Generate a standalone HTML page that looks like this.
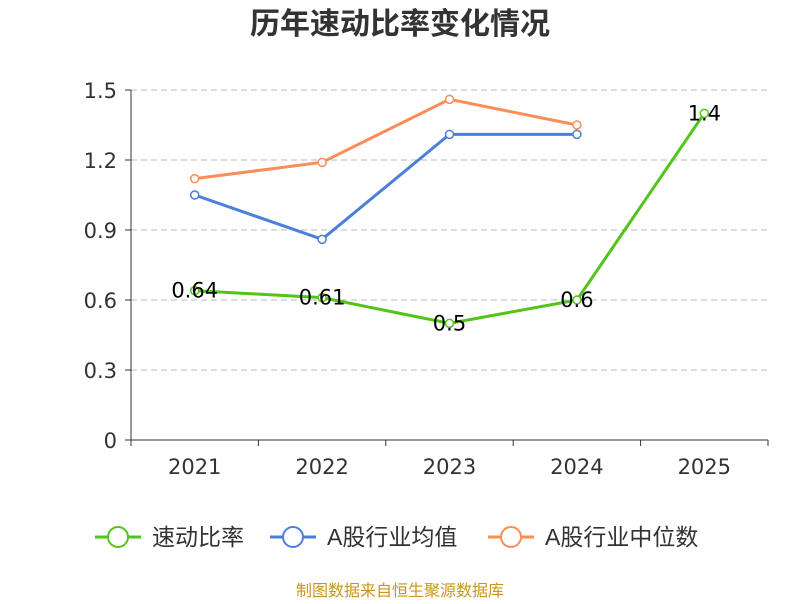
<!DOCTYPE html>
<html><head><meta charset="utf-8"><style>
body{margin:0;background:#fff;font-family:"DejaVu Sans","Noto Sans CJK SC",sans-serif;}
</style></head><body>
<svg id="c" width="800" height="600" xmlns="http://www.w3.org/2000/svg"></svg>
<script>
const categories=["2021","2022","2023","2024","2025"];
const quickRatio=[0.64,0.61,0.5,0.6,1.4];
const industryAvg=[1.05,0.86,1.31,1.31,null];
const industryMedian=[1.12,1.19,1.46,1.35,null];
const yTicks=[0,0.3,0.6,0.9,1.2,1.5];
const quickLabels=["0.64","0.61","0.5","0.6","1.4"];

const svg=document.getElementById('c');
const NS="http://www.w3.org/2000/svg";
const x0=131,x1=768,y0=440,y1=90,yMax=1.5;
const bw=(x1-x0)/categories.length;
const xs=i=>x0+bw*(i+0.5);
const ys=v=>y0-(v/yMax)*(y0-y1);
function el(t,a,p){const e=document.createElementNS(NS,t);for(const k in a)e.setAttribute(k,a[k]);(p||svg).appendChild(e);return e;}
const font='"DejaVu Sans","Noto Sans CJK SC",sans-serif';
const cjk='"Liberation Sans","Noto Sans CJK SC",sans-serif';

const title=el('text',{x:400,y:34,'text-anchor':'middle','font-size':30,'font-weight':'bold',fill:'#333','font-family':cjk});
title.textContent='历年速动比率变化情况';



yTicks.forEach(t=>{
  const y=ys(t);
  if(t>0){const g=el('line',{x1:x0,x2:x1,y1:y,y2:y,stroke:'#bbb','stroke-dasharray':'6,4'});
  
  }
  el('line',{x1:x0-6,x2:x0,y1:y,y2:y,stroke:'#333'});
  const l=el('text',{x:x0-14,y:y+8,'text-anchor':'end','font-size':21,fill:'#333','font-family':font});
  l.textContent=String(t);
  
  
});
const ya=el('line',{x1:x0,x2:x0,y1:y1,y2:y0,stroke:'#333'});


const xa=el('line',{x1:x0,x2:x1,y1:y0,y2:y0,stroke:'#333'});


for(let i=0;i<=categories.length;i++){el('line',{x1:x0+bw*i,x2:x0+bw*i,y1:y0,y2:y0+6,stroke:'#333'});}
categories.forEach((c,i)=>{
  const l=el('text',{x:xs(i),y:474,'text-anchor':'middle','font-size':21,fill:'#333','font-family':font});
  l.textContent=c;
  
  
});

function series(data,color,name){
  const pts=[];data.forEach((v,i)=>{if(v!=null)pts.push([xs(i),ys(v)]);});
  const p=el('polyline',{points:pts.map(p=>p.join(',')).join(' '),fill:'none',stroke:color,'stroke-width':3});
  
  
  pts.forEach(q=>{const c=el('circle',{cx:q[0],cy:q[1],r:4,fill:'#fff',stroke:color,'stroke-width':1.5});
  
  });
}
series(industryMedian,'#fc8d59','industry-median');
series(industryAvg,'#4a7fdc','industry-average');
series(quickRatio,'#52c41a','quick-ratio');
quickRatio.forEach((v,i)=>{
  const l=el('text',{x:xs(i),y:ys(v)+7,'text-anchor':'middle','font-size':21,fill:'#000','font-family':font});
  l.textContent=quickLabels[i];
  
  
});

const leg=[["速动比率",'#52c41a',95],["A股行业均值",'#4a7fdc',270],["A股行业中位数",'#fc8d59',488]];
leg.forEach(([t,c,x])=>{
  const g=el('g',{});
  
  
  el('line',{x1:x,x2:x+46,y1:537,y2:537,stroke:c,'stroke-width':3},g);
  el('circle',{cx:x+23,cy:537,r:10,fill:'#fff',stroke:c,'stroke-width':2},g);
  const l=el('text',{x:x+57,y:545,'font-size':23,fill:'#333','font-family':cjk},g);
  l.textContent=t;
});
const src=el('text',{x:400,y:596,'text-anchor':'middle','font-size':16,fill:'#c8961e','font-family':cjk});
src.textContent='制图数据来自恒生聚源数据库';


</script>
</body></html>
